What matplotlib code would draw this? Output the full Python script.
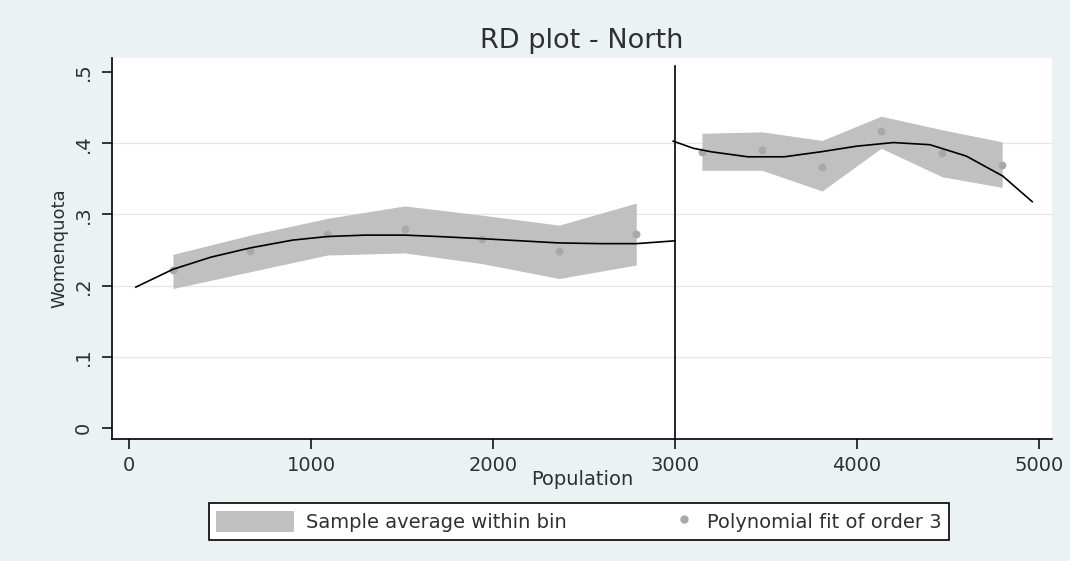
import numpy as np
import matplotlib
matplotlib.use("Agg")
import matplotlib.pyplot as plt
from matplotlib.patches import Patch
from matplotlib.lines import Line2D
from matplotlib.legend_handler import HandlerLine2D

plt.rcParams["font.family"] = ["DejaVu Sans"]

# bin averages (left of cutoff)
left_bins = [242, 666, 1090, 1515, 1939, 2363, 2787]
left_mean = [0.222, 0.249, 0.273, 0.279, 0.266, 0.248, 0.272]
left_hi = [0.244, 0.271, 0.2945, 0.312, 0.299, 0.285, 0.316]
left_lo = [0.196, 0.2195, 0.243, 0.246, 0.231, 0.210, 0.229]

# bin averages (right of cutoff)
right_bins = [3148, 3478, 3808, 4132, 4467, 4797]
right_mean = [0.388, 0.390, 0.367, 0.417, 0.386, 0.369]
right_hi = [0.414, 0.416, 0.404, 0.438, 0.419, 0.402]
right_lo = [0.362, 0.362, 0.333, 0.393, 0.353, 0.338]

# fitted polynomial
left_fit_x = [38, 242, 450, 666, 900, 1090, 1300, 1515, 1700, 1939, 2150, 2363, 2600, 2787, 3000]
left_fit_y = [0.198, 0.223, 0.240, 0.253, 0.264, 0.269, 0.271, 0.271, 0.269, 0.266,
              0.263, 0.260, 0.259, 0.259, 0.263]
right_fit_x = [2990, 3100, 3200, 3400, 3600, 3800, 4000, 4200, 4400, 4600, 4800, 4962]
right_fit_y = [0.403, 0.393, 0.388, 0.381, 0.381, 0.388, 0.396, 0.401, 0.398, 0.382,
               0.354, 0.318]

cutoff = 3000
yticks = [0, 0.1, 0.2, 0.3, 0.4, 0.5]
ytick_labels = ["0", ".1", ".2", ".3", ".4", ".5"]
xticks = [0, 1000, 2000, 3000, 4000, 5000]

bg = "#eaf2f3"
band_col = "#c0c0c0"
pt_col = "#a8a8a8"
txt = "#303030"


# marker drawn at the right end of the legend handle, next to its text
class RightMarker(HandlerLine2D):
    def get_xdata(self, legend, xdescent, ydescent, width, height, fontsize):
        x = [-xdescent + width - 0.55 * fontsize]
        return x, x


fig = plt.figure(figsize=(10.70, 5.61), dpi=100, facecolor=bg)
ax = fig.add_axes([0.1047, 0.2175, 0.8785, 0.679])
ax.set_facecolor("white")

for gy in yticks[1:-1]:
    ax.axhline(gy, color="#e6e6e6", lw=0.9, zorder=0)

ax.fill_between(left_bins, left_lo, left_hi, color=band_col, lw=0, zorder=1)
ax.fill_between(right_bins, right_lo, right_hi, color=band_col, lw=0, zorder=1)
ax.scatter(left_bins, left_mean, s=32, color=pt_col, zorder=2, lw=0)
ax.scatter(right_bins, right_mean, s=32, color=pt_col, zorder=2, lw=0)
ax.plot(left_fit_x, left_fit_y, color="black", lw=1.2, zorder=3)
ax.plot(right_fit_x, right_fit_y, color="black", lw=1.2, zorder=3)
ax.axvline(cutoff, ymax=0.98, color="black", lw=1.2, zorder=3)

ax.set_xlim(-93, 5071)
ax.set_ylim(-0.0154, 0.5197)
ax.set_xticks(xticks)
ax.set_yticks(yticks)
ax.set_yticklabels(ytick_labels, rotation=90, va="center")
ax.tick_params(axis="both", direction="out", length=7, width=1.1, colors="black",
               labelcolor=txt, labelsize=14)
ax.tick_params(axis="y", pad=7)
ax.tick_params(axis="x", pad=5)
for s in ["top", "right"]:
    ax.spines[s].set_visible(False)
for s in ["left", "bottom"]:
    ax.spines[s].set_linewidth(1.2)

ax.set_title("RD plot - North", fontsize=19.5, color=txt, pad=7)
ax.set_xlabel("Population", fontsize=14, color=txt, labelpad=-3)
ax.set_ylabel("Womenquota", fontsize=13, color=txt, labelpad=4)

marker_handle = Line2D([], [], marker="o", ls="", color=pt_col, markersize=5)
handles = [Patch(facecolor=band_col, edgecolor="none"), marker_handle]
labels = ["Sample average within bin", "Polynomial fit of order 3"]
leg = fig.legend(handles, labels, loc="center", bbox_to_anchor=(0.541, 0.0705), ncol=2,
                 fontsize=14, frameon=True, fancybox=False, edgecolor="black",
                 framealpha=1, facecolor="white",
                 handlelength=4.0, handleheight=1.25, handletextpad=0.6,
                 columnspacing=2.6, borderpad=0.4, labelcolor=txt,
                 handler_map={marker_handle: RightMarker(numpoints=1)})
leg.get_frame().set_linewidth(1.2)

fig.savefig("out.png", dpi=100, facecolor=bg)
